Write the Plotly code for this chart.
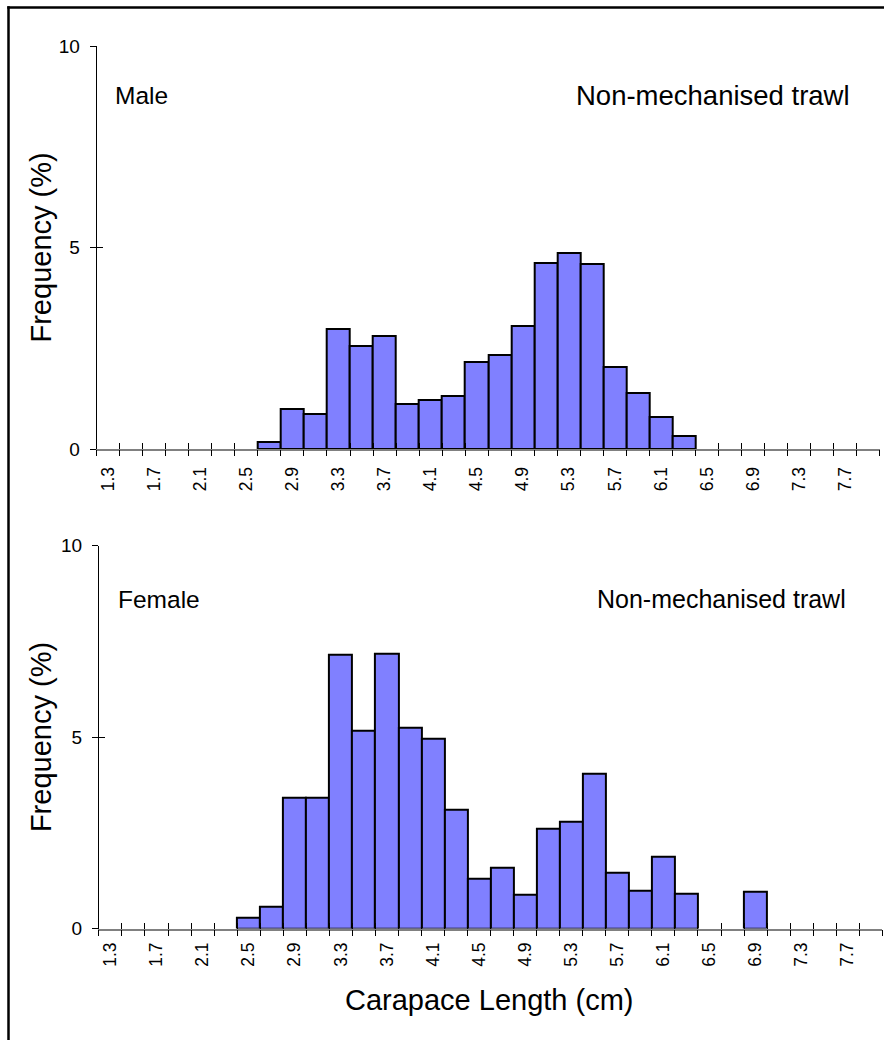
import plotly.graph_objects as go

# ---------------- data ----------------
lengths = [1.3, 1.5, 1.7, 1.9, 2.1, 2.3, 2.5, 2.7, 2.9, 3.1, 3.3, 3.5, 3.7, 3.9, 4.1, 4.3, 4.5,
           4.7, 4.9, 5.1, 5.3, 5.5, 5.7, 5.9, 6.1, 6.3, 6.5, 6.7, 6.9, 7.1, 7.3, 7.5, 7.7, 7.9]

male = [None, None, None, None, None, None, None, 0.17, 1.00, 0.87, 2.98, 2.56, 2.80, 1.12,
        1.22, 1.32, 2.17, 2.33, 3.04, 4.62, 4.87, 4.59, 2.03, 1.40, 0.80, 0.32,
        None, None, None, None, None, None, None, None]

female = [None, None, None, None, None, None, 0.28, 0.56, 3.41, 3.41, 7.15, 5.18, 7.18, 5.24,
          4.96, 3.11, 1.31, 1.58, 0.88, 2.61, 2.80, 4.04, 1.47, 0.99, 1.88, 0.90,
          None, None, 0.96, None, None, None, None, None]

x_tick_labels = ["1.3", "1.7", "2.1", "2.5", "2.9", "3.3", "3.7", "4.1", "4.5",
                 "4.9", "5.3", "5.7", "6.1", "6.5", "6.9", "7.3", "7.7"]
y_tick_values = [0, 5, 10]

panel_sex = ["Male", "Female"]
gear = "Non-mechanised trawl"
y_title = "Frequency (%)"
x_title = "Carapace Length (cm)"

# ---------------- layout helpers ----------------
W, H = 884, 1040
FONT = "Liberation Sans, Arial, sans-serif"
BAR_FILL = "#8080FF"


def px_x(p):
    return p / W


def px_y(p):
    return 1 - p / H


panels = [
    dict(x0=96.7, x1=879.7, ytop=46.0, ybot=449.0, xstand=9),
    dict(x0=98.9, x1=882.3, ytop=545.7, ybot=928.5, xstand=5),
]
series = [male, female]

fig = go.Figure()
x_range = [lengths[0] - 0.1, lengths[-1] + 0.1]
tick_vals = [float(t) for t in x_tick_labels]

layout = dict(
    width=W, height=H,
    margin=dict(l=0, r=0, t=0, b=0, pad=0, autoexpand=False),
    paper_bgcolor="white", plot_bgcolor="rgba(0,0,0,0)",
    bargap=0, showlegend=False,
    font=dict(family=FONT, color="black"),
)

for i, p in enumerate(panels):
    xi = "" if i == 0 else "2"
    xdom = [px_x(p["x0"]), px_x(p["x1"])]
    ydom = [px_y(p["ybot"]), px_y(p["ytop"])]

    fig.add_trace(go.Bar(x=lengths, y=series[i], width=0.2, xaxis="x" + xi, yaxis="y" + xi,
                         marker=dict(color=BAR_FILL, line=dict(color="black", width=2)),
                         showlegend=False, hoverinfo="x+y"))

    # main axes
    layout["xaxis" + xi] = dict(
        domain=xdom, anchor="y" + xi, range=x_range, type="linear",
        tickmode="array", tickvals=tick_vals, ticktext=x_tick_labels,
        ticks="", tickangle=-90, tickfont=dict(size=17.5, family=FONT, color="black"),
        ticklabelstandoff=p["xstand"], automargin=False,
        showline=True, linecolor="#808080", linewidth=2,
        showgrid=False, zeroline=False, fixedrange=True,
    )
    layout["yaxis" + xi] = dict(
        domain=ydom, anchor="x" + xi, range=[0, 10],
        tickmode="array", tickvals=y_tick_values,
        ticks="outside", ticklen=6, tickwidth=1.2, tickcolor="black",
        tickfont=dict(size=19, family=FONT, color="black"), automargin=False,
        ticklabelstandoff=6,
        showline=True, linecolor="black", linewidth=1,
        showgrid=False, zeroline=False, fixedrange=True,
    )

    # overlay axes that add the two halves of the "cross" tick marks on x,
    # and the inner half on y
    ox_out = str(3 + 2 * i)
    ox_in = str(4 + 2 * i)
    for name, side in ((ox_out, "outside"), (ox_in, "inside")):
        layout["xaxis" + name] = dict(
            overlaying="x" + xi, anchor="y" + xi, range=x_range, type="linear",
            tickmode="linear", tick0=x_range[0], dtick=0.2,
            ticks=side, ticklen=6, tickwidth=1.2, tickcolor="black",
            showticklabels=False, showline=False, showgrid=False, zeroline=False,
            fixedrange=True, automargin=False,
        )
        fig.add_trace(go.Scatter(x=[], y=[], xaxis="x" + name, yaxis="y" + xi,
                                 showlegend=False, hoverinfo="skip"))
    oy = str(3 + i)
    layout["yaxis" + oy] = dict(
        overlaying="y" + xi, anchor="x" + xi, range=[0, 10], side="left",
        tickmode="array", tickvals=y_tick_values,
        ticks="inside", ticklen=6, tickwidth=1.2, tickcolor="black",
        showticklabels=False, showline=False, showgrid=False, zeroline=False,
        fixedrange=True, automargin=False,
    )
    fig.add_trace(go.Scatter(x=[], y=[], xaxis="x" + xi, yaxis="y" + oy,
                             showlegend=False, hoverinfo="skip"))

annotations = []
label_pos = [
    dict(sex_x=112.7, gear_x=574.0, gear_size=27.5, y=95.5),
    dict(sex_x=116.0, gear_x=595.0, gear_size=25.0, y=599.0),
]
for i, lp in enumerate(label_pos):
    annotations.append(dict(text=panel_sex[i], xref="paper", yref="paper",
                            x=px_x(lp["sex_x"]), y=px_y(lp["y"]), xanchor="left", yanchor="middle",
                            showarrow=False, font=dict(size=24.5, family=FONT, color="black")))
    annotations.append(dict(text=gear, xref="paper", yref="paper",
                            x=px_x(lp["gear_x"]), y=px_y(lp["y"]), xanchor="left", yanchor="middle",
                            showarrow=False, font=dict(size=lp["gear_size"], family=FONT, color="black")))
    p = panels[i]
    annotations.append(dict(text=y_title, xref="paper", yref="paper", textangle=-90,
                            x=px_x(41), y=px_y((p["ytop"] + p["ybot"]) / 2),
                            xanchor="center", yanchor="middle", showarrow=False,
                            font=dict(size=29, family=FONT, color="black")))

annotations.append(dict(text=x_title, xref="paper", yref="paper",
                        x=px_x(489), y=px_y(1000), xanchor="center", yanchor="middle",
                        showarrow=False, font=dict(size=29, family=FONT, color="black")))
layout["annotations"] = annotations

# outer frame: only its left and top edges fall inside the picture
layout["shapes"] = [
    dict(type="line", xref="paper", yref="paper", x0=px_x(8.5), x1=px_x(8.5),
         y0=0, y1=px_y(6.3), line=dict(color="black", width=2.5)),
    dict(type="line", xref="paper", yref="paper", x0=px_x(7.3), x1=1,
         y0=px_y(7.5), y1=px_y(7.5), line=dict(color="black", width=2.5)),
]

fig.update_layout(**layout)
fig.write_html("out.html")
